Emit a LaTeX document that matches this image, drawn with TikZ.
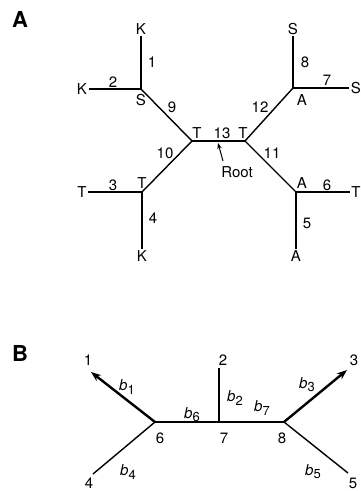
\documentclass[tikz,border=0pt]{standalone}
\usepackage{fontspec}
\setmainfont{TeX Gyre Heros}
\usetikzlibrary{arrows.meta}
\newcommand\bsub[2]{\textit{#1}\kern0.3pt\raisebox{-0.4ex}{\fontsize{13}{14}\selectfont #2}}
\begin{document}
\begin{tikzpicture}[x=1pt,y=-1pt,
  lbl/.style={inner sep=0pt, font=\fontsize{15}{17}\selectfont},
  leaf/.style={inner sep=1.5pt, font=\fontsize{15}{17}\selectfont},
  edge/.style={line width=1.4pt},
  heavy/.style={line width=2.4pt, -{Stealth[length=10pt,width=7.5pt]}},
  panel/.style={inner sep=0pt, font=\fontsize{22}{24}\selectfont\bfseries}]
\useasboundingbox (0,0) rectangle (361,491);

% ---------- Panel A ----------
\node[panel] (pA) at (20,19) {A};
\coordinate (s)  at (141,89);
\coordinate (tl) at (192,141);
\coordinate (tr) at (245,141);
\coordinate (a1) at (293,88);
\coordinate (t2) at (142,192);
\coordinate (a2) at (296,192);

\node[leaf] (k1) at (141,29) {K};
\node[leaf] (k2) at (82,89) {K};
\node[leaf] (s1) at (293,29) {S};
\node[leaf] (s2) at (356,88) {S};
\node[leaf] (t1) at (82,192) {T};
\node[leaf] (k3) at (142,256) {K};
\node[leaf] (t3) at (356,192) {T};
\node[leaf] (a3) at (296,256) {A};

\draw[edge] (s) -- (k1);
\draw[edge] (s) -- (k2);
\draw[edge] (s) -- (tl);
\draw[edge] (tl) -- (tr);
\draw[edge] (tl) -- (t2);
\draw[edge] (t2) -- (t1);
\draw[edge] (t2) -- (k3);
\draw[edge] (tr) -- (a1);
\draw[edge] (a1) -- (s1);
\draw[edge] (a1) -- (s2);
\draw[edge] (tr) -- (a2);
\draw[edge] (a2) -- (t3);
\draw[edge] (a2) -- (a3);

\node[lbl] (e1l)  at (152,62)  {1};
\node[lbl] (e2l)  at (113,82)  {2};
\node[lbl] (sl)   at (141,100) {S};
\node[lbl] (e9l)  at (172,107) {9};
\node[lbl] (tll)  at (197,133) {T};
\node[lbl] (e13l) at (222,133) {13};
\node[lbl] (trl)  at (243,133) {T};
\node[lbl] (e8l)  at (305,62)  {8};
\node[lbl] (e7l)  at (327,80)  {7};
\node[lbl] (a1l)  at (302,100) {A};
\node[lbl] (e12l) at (260,107) {12};
\node[lbl] (e10l) at (165,153) {10};
\node[lbl] (e11l) at (272,153) {11};
\node[lbl] (e3l)  at (113,185) {3};
\node[lbl] (t2l)  at (142,183) {T};
\node[lbl] (e4l)  at (153,218) {4};
\node[lbl] (a2l)  at (302,183) {A};
\node[lbl] (e6l)  at (327,185) {6};
\node[lbl] (e5l)  at (307,223) {5};

\node[lbl] (root) at (237,172) {Root};
\coordinate (rtail) at (223,161);
\coordinate (rtip) at (218,143);
\draw[line width=1pt, -{Stealth[length=6pt,width=4.5pt]}] (rtail) -- (rtip);

% ---------- Panel B ----------
\node[panel] (pB) at (20,353) {B};
\coordinate (n6) at (155,422);
\coordinate (n7) at (219,422);
\coordinate (n8) at (284,422);
\coordinate (x1) at (91,372);
\coordinate (x2) at (219,368);
\coordinate (x3) at (347,370);
\coordinate (x4) at (93,474);
\coordinate (x5) at (348,473);

\draw[edge] (n6) -- (n7) -- (n8);
\draw[edge] (n7) -- (x2);
\draw[edge] (n6) -- (x4);
\draw[edge] (n8) -- (x5);
\draw[heavy] (n6) -- (x1);
\draw[heavy] (n8) -- (x3);

\node[lbl] (l1) at (88,360)  {1};
\node[lbl] (l2) at (223,360) {2};
\node[lbl] (l3) at (354,360) {3};
\node[lbl] (l4) at (89,483)  {4};
\node[lbl] (l5) at (353,483) {5};
\node[lbl] (l6) at (160,438) {6};
\node[lbl] (l7) at (224,438) {7};
\node[lbl] (l8) at (282,438) {8};

\node[lbl] (b1) at (127,387) {\bsub{b}{1}};
\node[lbl] (b2) at (235,398) {\bsub{b}{2}};
\node[lbl] (b3) at (307,385) {\bsub{b}{3}};
\node[lbl] (b4) at (128,472) {\bsub{b}{4}};
\node[lbl] (b5) at (313,472) {\bsub{b}{5}};
\node[lbl] (b6) at (192,415) {\bsub{b}{6}};
\node[lbl] (b7) at (262,408) {\bsub{b}{7}};
\end{tikzpicture}
\end{document}
